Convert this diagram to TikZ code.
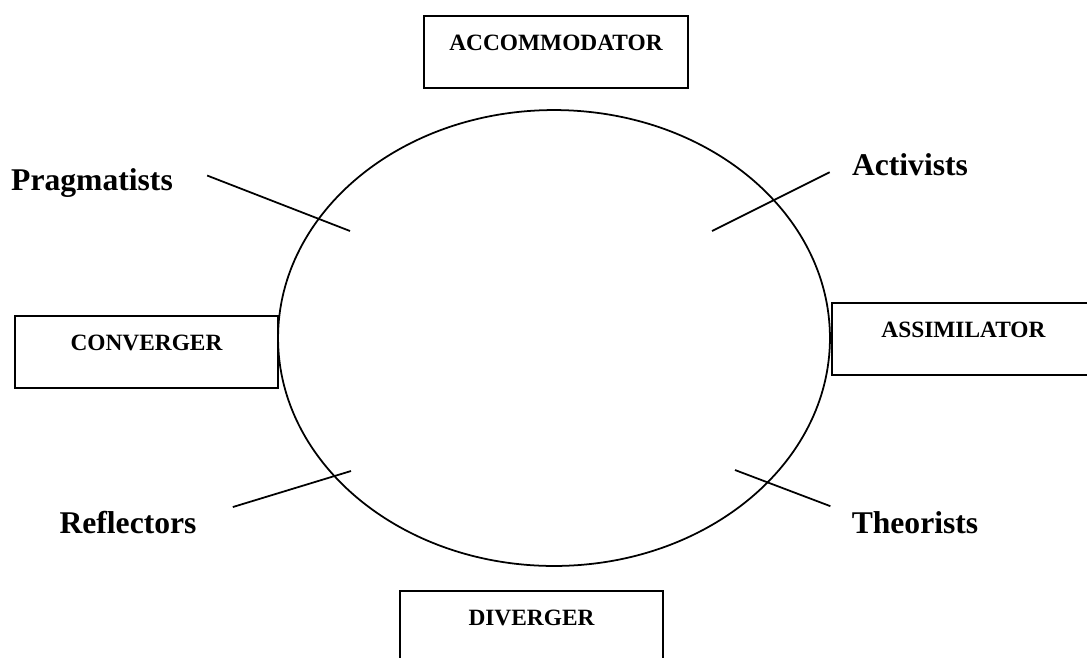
\documentclass[tikz,border=0pt]{standalone}
\usepackage{fontspec}
\setmainfont{Liberation Serif}
\usepackage{tikz}
\usetikzlibrary{calc}

\begin{document}
\begin{tikzpicture}
      [x = 0.02cm, y = -0.02cm,
      stage/.style= {
         draw,
         line width = 0.9pt,
         anchor = north,
         inner sep = 0pt,
         minimum width = 5.27cm,
         text height = 0.70cm,
         text depth = 0.74cm,
         font = \fontsize{13.3}{16}\selectfont\bfseries
      },
      tag/.style= {
         anchor = base,
         inner sep = 0pt,
         font = \fontsize{18}{22}\selectfont\bfseries
      },
      pointer/.style={line width = 1pt}]

      \useasboundingbox (0, 0) rectangle (1087, 657);
      \clip (0, 0) rectangle (1087, 657);

      % the learning cycle
      \draw[line width = 1pt] (554, 338) ellipse [x radius = 5.52cm, y radius = 4.56cm];

      % learning styles (Kolb)
      \node[stage] (accom) at (556, 15) {ACCOMMODATOR};
      \node[stage] (conv) at (146.5, 315) {CONVERGER};
      \node[stage] (assim) at (963.5, 302) {ASSIMILATOR};
      \node[stage] (div) at (531.5, 590) {DIVERGER};

      % learner types (Honey and Mumford)
      \node[tag] (prag) at (92, 190) {Pragmatists};
      \node[tag] (act) at (910, 175) {Activists};
      \node[tag] (refl) at (128, 533) {Reflectors};
      \node[tag] (theo) at (915, 533) {Theorists};

      \coordinate (prag-in) at (350, 231);
      \coordinate (act-in) at (712, 231);
      \coordinate (refl-in) at (351, 471);
      \coordinate (theo-in) at (735, 470);

      \draw[pointer] ($(prag.east) + (34, -7)$) -- (prag-in);
      \draw[pointer] ($(act.west) + (-22, 8)$) -- (act-in);
      \draw[pointer] ($(refl.east) + (36, -15)$) -- (refl-in);
      \draw[pointer] ($(theo.west) + (-21, -16)$) -- (theo-in);

   \end{tikzpicture}
\end{document}
